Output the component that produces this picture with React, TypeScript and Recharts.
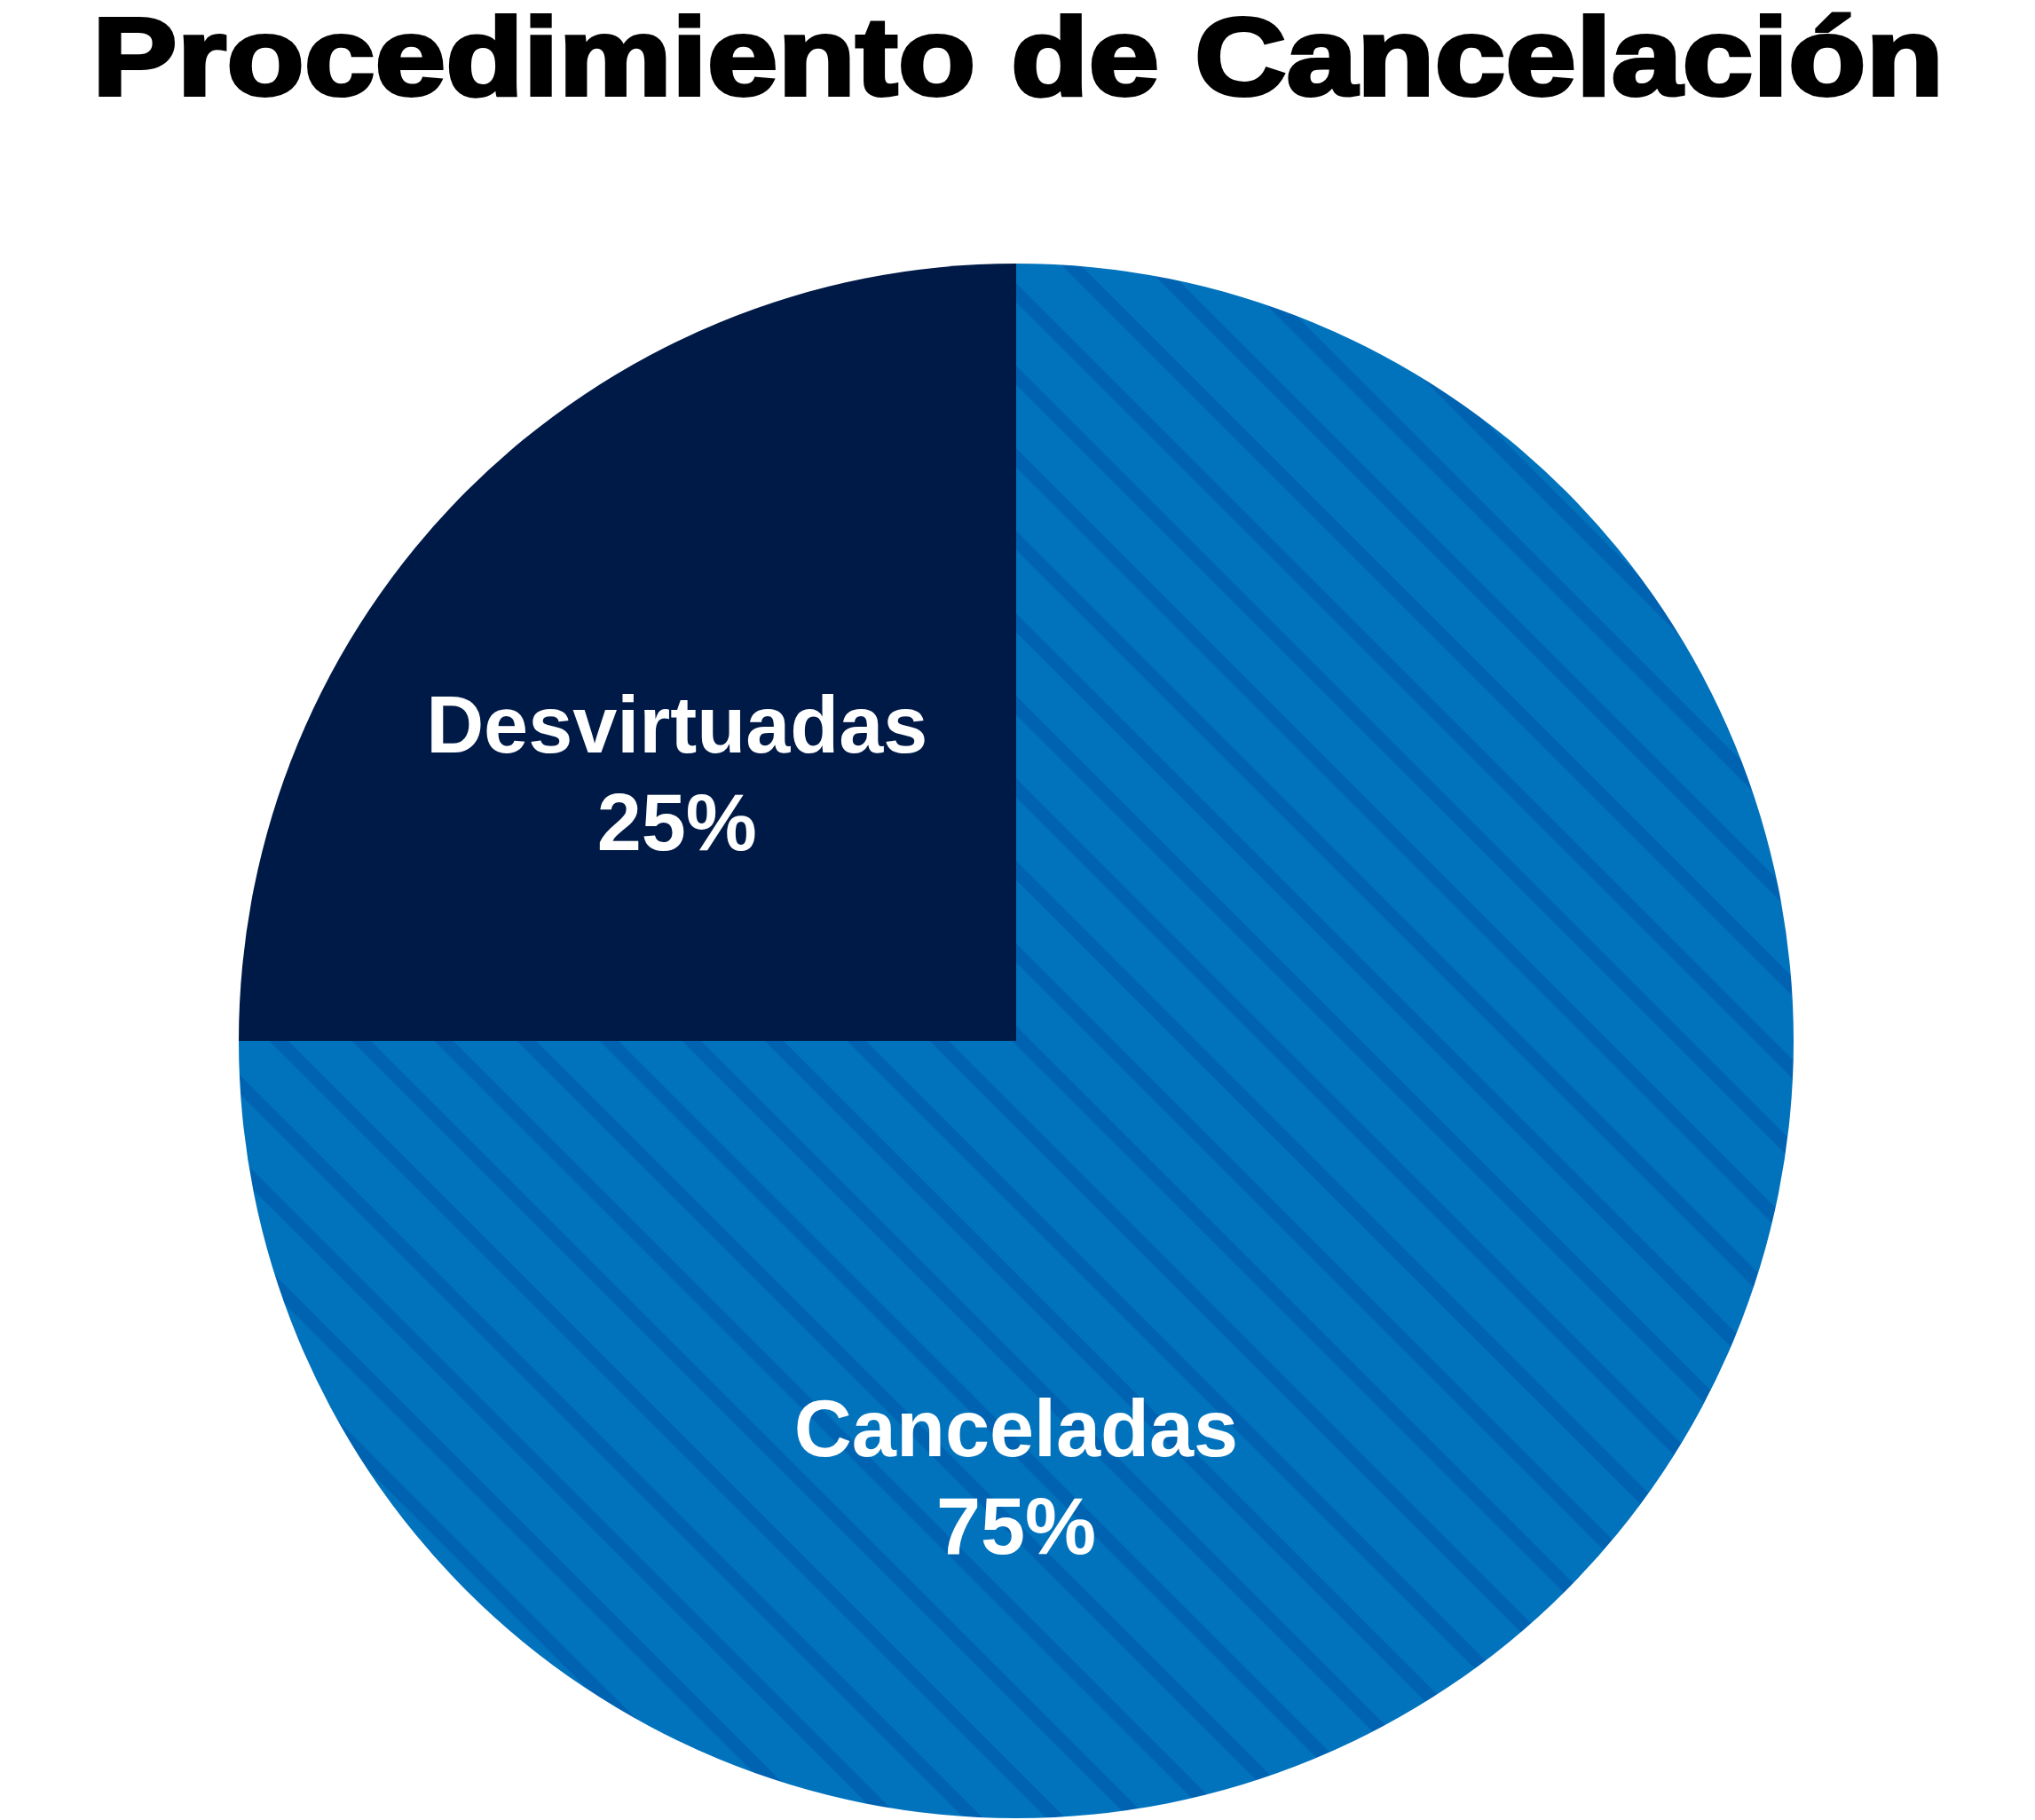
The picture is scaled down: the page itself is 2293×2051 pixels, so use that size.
import { PieChart, Pie, Cell } from "recharts"

const categories = ["Desvirtuadas", "Canceladas"]
const percentages = [25, 75]
const chartTitle = "Procedimiento de Cancelación"

const data = categories.map((name, i) => ({ name, value: percentages[i] }))

// where each slice's text sits (angle in degrees, fraction of the radius)
const labelPlacement = [
  { angle: 141.7, r: 0.556 },
  { angle: 270, r: 0.561 },
]

const NAVY = "#001A47"
const BLUE = "#0173BD"
const STRIPE = "#0063B1"

const renderLabel = (props: any) => {
  const { cx, cy, outerRadius, index, name, value } = props
  const p = labelPlacement[index]
  const rad = (p.angle * Math.PI) / 180
  const x = cx + Math.cos(rad) * outerRadius * p.r
  const y = cy - Math.sin(rad) * outerRadius * p.r
  return (
    <text
      x={x}
      y={y}
      fill="#ffffff"
      textAnchor="middle"
      fontFamily="'Liberation Sans', Arial, sans-serif"
      fontWeight="bold"
      fontSize={90}
    >
      <tspan x={x} y={y - 23}>{name}</tspan>
      <tspan x={x} y={y + 87}>{`${value}%`}</tspan>
    </text>
  )
}

export default function App() {
  return (
    <div style={{ position: "absolute", left: 0, top: 0, width: 2293, height: 2051, background: "#ffffff" }}>
      <svg width={2293} height={140} style={{ position: "absolute", left: 0, top: 0, overflow: "visible" }}>
        <text
          x={104}
          y={107}
          fontFamily="'Liberation Sans', Arial, sans-serif"
          fontWeight="bold"
          fontSize={125}
          fill="#000000"
          stroke="#000000"
          strokeWidth={4}
          textLength={2086}
          lengthAdjust="spacingAndGlyphs"
        >
          {chartTitle}
        </text>
      </svg>
      <div style={{ position: "absolute", left: 0, top: 0 }}>
        <PieChart width={2293} height={2051} margin={{ top: 0, right: 0, bottom: 0, left: 0 }}>
          <defs>
            <pattern
              id="hatch"
              patternUnits="userSpaceOnUse"
              width={65.76}
              height={200}
              patternTransform="rotate(-45)"
            >
              <rect x={0} y={0} width={65.76} height={200} fill={BLUE} />
              <rect x={42.6} y={0} width={15.3} height={200} fill={STRIPE} />
            </pattern>
          </defs>
          <Pie
            data={data}
            dataKey="value"
            nameKey="name"
            cx={1145}
            cy={1173}
            outerRadius={876}
            startAngle={90}
            endAngle={450}
            stroke="none"
            label={renderLabel}
            labelLine={false}
            isAnimationActive={false}
          >
            <Cell fill={NAVY} />
            <Cell fill="url(#hatch)" />
          </Pie>
        </PieChart>
      </div>
    </div>
  )
}
